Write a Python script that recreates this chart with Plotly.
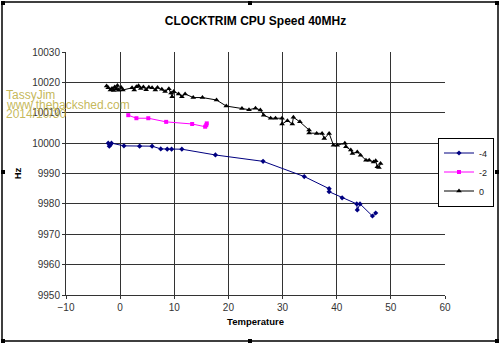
import plotly.graph_objects as go

# ---- data ----
t_m4 = [-2.2, -2.0, -1.8, -1.6, 0.7, 3.6, 5.9, 7.5, 8.7, 9.5, 11.4, 17.6, 26.4, 34.0, 38.6, 38.6, 41.0, 43.7, 43.8, 44.3, 46.6, 47.2]
hz_m4 = [10000, 9999, 9999.5, 10000, 9999.1, 9999, 9999, 9998.1, 9998, 9998, 9998, 9996.1, 9994, 9989, 9985, 9984, 9982, 9980, 9978, 9980, 9976, 9977]

t_m2 = [1.5, 3.0, 5.2, 8.5, 13.3, 15.7, 15.9, 16.0]
hz_m2 = [10009.2, 10008.2, 10008.2, 10007, 10006.3, 10005.4, 10005.9, 10006.5]

t_0 = [-2.5, -2.2, -1.8, -1.5, -1.2, -1.0, -0.7, -0.5, -0.3, 0.2, 0.5, 2.2, 2.6, 3.0, 3.4, 3.8,
       4.3, 4.8, 5.3, 5.9, 6.5, 6.9, 7.7, 8.3, 9.0, 9.4, 9.6, 9.9, 10.8, 11.4, 12.0, 13.5,
       15.2, 17.8, 19.6, 22.5, 23.8, 25.0, 25.9, 26.5, 27.8, 28.7, 29.9, 29.9, 30.9, 31.8,
       32.0, 33.2, 34.9, 34.9, 36.3, 37.3, 37.7, 38.6, 39.4, 40.1, 41.5, 41.7, 42.6, 42.9,
       43.8, 44.4, 45.4, 46.0, 46.8, 47.2, 47.5, 47.8, 48.1]
hz_0 = [10018.8, 10018.2, 10017.5, 10018, 10017.3, 10018.5, 10017.8, 10019, 10017.4, 10018.3, 10017.5,
        10018.2, 10017.5, 10018.6, 10018.9, 10018, 10018.5, 10017.6, 10018.4, 10018.2, 10017.5, 10018.3,
        10017.7, 10017, 10017.9, 10016.5, 10015.3, 10017, 10016.2, 10015.3, 10016.2, 10015,
        10015, 10014.2, 10012.2, 10011.4, 10011.0, 10011.5, 10010.9, 10009.2, 10008.2, 10008.2,
        10008.2, 10006.3, 10007.4, 10006.3, 10008.5, 10007, 10004.3, 10003.3, 10003.2, 10003.2,
        10001.5, 10003.2, 9999.3, 9999.3, 10000, 9998.8, 9997.7, 9996.6, 9997.1, 9996, 9994.4,
        9994.4, 9993.8, 9994.2, 9992.2, 9992, 9993.3]

x_ticks = [-10, 0, 10, 20, 30, 40, 50, 60]
y_ticks = [9950, 9960, 9970, 9980, 9990, 10000, 10010, 10020, 10030]

FONT = "Liberation Sans, Arial, sans-serif"

fig = go.Figure()
fig.add_trace(go.Scatter(x=t_m4, y=hz_m4, name="-4", mode="lines+markers",
                         line=dict(color="#000080", width=1),
                         marker=dict(symbol="diamond", size=4, color="#000080")))
fig.add_trace(go.Scatter(x=t_m2, y=hz_m2, name="-2", mode="lines+markers",
                         line=dict(color="#FF00FF", width=1),
                         marker=dict(symbol="square", size=4, color="#FF00FF")))
fig.add_trace(go.Scatter(x=t_0, y=hz_0, name="0", mode="lines+markers",
                         line=dict(color="#000000", width=1),
                         marker=dict(symbol="triangle-up", size=5, color="#000000")))

L, R, T, B = 66, 55, 52, 49
pw, ph = 500 - L - R, 344 - T - B

def px(xp):
    return (xp - L) / pw

def py(yp):
    return (344 - B - yp) / ph

shapes = [dict(type="rect", xref="paper", yref="paper",
               x0=px(2), x1=px(498), y0=py(341), y1=py(2),
               line=dict(color="#000000", width=1.5), layer="above")]
for hx in (3, 250, 497):
    for hy in (3, 172, 341):
        if hx == 250 and hy == 172:
            continue
        shapes.append(dict(type="rect", xref="paper", yref="paper",
                           x0=px(hx - 2), x1=px(hx + 2), y0=py(hy + 2), y1=py(hy - 2),
                           fillcolor="#000000", line=dict(width=0), layer="above"))

annotations = []
for i, txt in enumerate(["TassyJim", "www.thebackshed.com", "2014/10/30"]):
    annotations.append(dict(text=txt, xref="paper", yref="paper", x=px(4), y=py(95 + i * 9.5),
                            xanchor="left", yanchor="middle", showarrow=False,
                            font=dict(family=FONT, size=12, color="rgba(190,175,70,0.9)")))

fig.update_layout(
    width=500, height=344,
    margin=dict(l=L, r=R, t=T, b=B, autoexpand=False),
    paper_bgcolor="white", plot_bgcolor="white",
    font=dict(family=FONT, size=10, color="#222222"),
    title=dict(text="<b>CLOCKTRIM CPU Speed 40MHz</b>", x=0.5, xref="paper", xanchor="center",
               y=1 - 21 / 344, yref="container", yanchor="middle",
               font=dict(family=FONT, size=12, color="#000000")),
    xaxis=dict(range=[-10, 60], tickvals=x_ticks, showgrid=True, gridcolor="#333333", gridwidth=1,
               zeroline=False, showline=True, linecolor="#333333", linewidth=1,
               ticks="outside", ticklen=3, tickcolor="#333333", mirror=False,
               tickfont=dict(size=10, color="#333333"),
               title=dict(text="<b>Temperature</b>", standoff=6,
                          font=dict(size=9.5, color="#000000"))),
    yaxis=dict(range=[9950, 10030], tickvals=y_ticks, tickformat="d",
               showgrid=True, gridcolor="#333333", gridwidth=1,
               zeroline=False, showline=True, linecolor="#333333", linewidth=1,
               ticks="outside", ticklen=3, tickcolor="#333333",
               tickfont=dict(size=10, color="#333333"),
               title=dict(text="<b>Hz</b>", standoff=8,
                          font=dict(size=9.5, color="#000000"))),
    legend=dict(x=px(494), y=py(172), xanchor="right", yanchor="middle",
                bordercolor="#000000", borderwidth=1, bgcolor="white",
                font=dict(size=9, color="#222222"), itemwidth=30, tracegroupgap=0),
    shapes=shapes, annotations=annotations,
)

fig.write_html("out.html")
